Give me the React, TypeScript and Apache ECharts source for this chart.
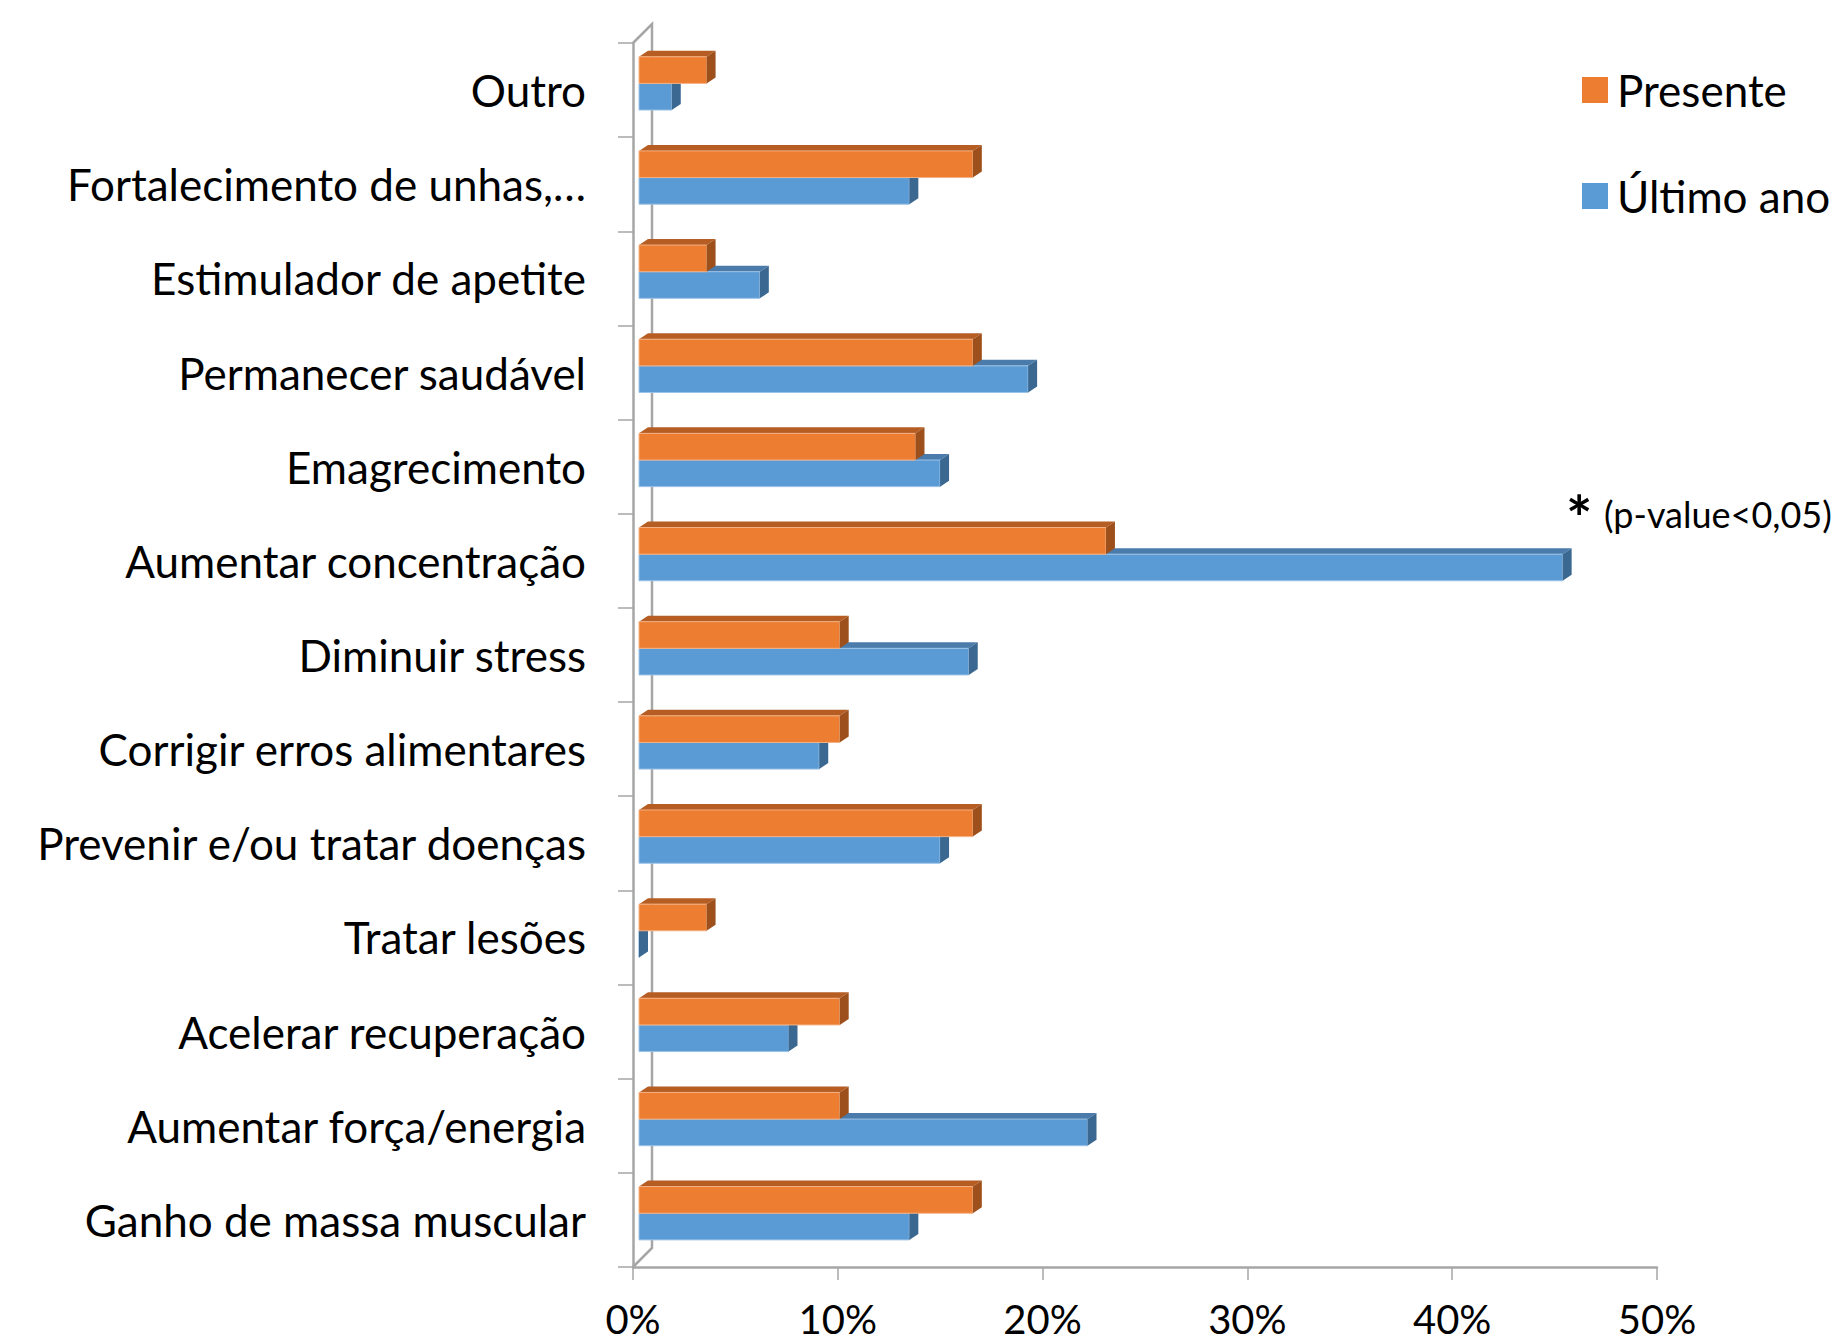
import React, { useEffect, useRef } from "react";
import * as echarts from "echarts";

const categories = [
  "Outro",
  "Fortalecimento de unhas,…",
  "Estimulador de apetite",
  "Permanecer saudável",
  "Emagrecimento",
  "Aumentar concentração",
  "Diminuir stress",
  "Corrigir erros alimentares",
  "Prevenir e/ou tratar doenças",
  "Tratar lesões",
  "Acelerar recuperação",
  "Aumentar força/energia",
  "Ganho de massa muscular",
];
const presente = [3.3, 16.3, 3.3, 16.3, 13.5, 22.8, 9.8, 9.8, 16.3, 3.3, 9.8, 9.8, 16.3];
const ultimoAno = [1.6, 13.2, 5.9, 19.0, 14.7, 45.1, 16.1, 8.8, 14.7, 0, 7.3, 21.9, 13.2];
const seriesNames = ["Presente", "Último ano"];
const annotation = ["*", "(p-value<0,05)"];

const FONT = "Lato, 'Open Sans', sans-serif";
const AXIS_GRAY = "#a6a6a6";

const COLORS = [
  { front: "#ED7D31", top: "#B55D22", side: "#9E501C", edge: "#F4B183" },
  { front: "#5B9BD5", top: "#4A7BAA", side: "#3B6891", edge: "#9DC3E6" },
];

function bar3D(k: number) {
  const c = COLORS[k];
  return (params: any, api: any) => {
    const i = api.value(0);
    const v = api.value(1);
    const band = api.size([0, 1])[1];
    const p0 = api.coord([0, i]);
    const p1 = api.coord([v, i]);
    const off = 6;
    const x0 = p0[0] + off;
    const x1 = p1[0] + off;
    const h = band * 0.283;
    const y0 = p0[1] - band * 0.354 + k * h;
    const y1 = y0 + h;
    const dx = 9;
    const dy = 6;
    return {
      type: "group",
      children: [
        {
          type: "polygon",
          shape: { points: [[x0, y0], [x1, y0], [x1 + dx, y0 - dy], [x0 + dx, y0 - dy]] },
          style: { fill: c.top },
        },
        {
          type: "rect",
          shape: { x: x0, y: y0, width: Math.max(0, x1 - x0), height: h },
          style: { fill: c.front, stroke: c.edge, lineWidth: 1 },
        },
        {
          type: "polygon",
          shape: { points: [[x1, y0], [x1 + dx, y0 - dy], [x1 + dx, y1 - dy], [x1, y1]] },
          style: { fill: c.side },
        },
      ],
    };
  };
}

function backWall(params: any, api: any) {
  const band = api.size([0, 1])[1];
  const n = categories.length;
  const pTop = api.coord([0, 0]);
  const pBot = api.coord([0, n - 1]);
  const x = pTop[0];
  const yT = pTop[1] - band / 2;
  const yB = pBot[1] + band / 2;
  const d = 19;
  return {
    type: "polyline",
    shape: { points: [[x, yT], [x + d, yT - d], [x + d, yB - d], [x, yB]] },
    style: { stroke: AXIS_GRAY, lineWidth: 2.5, fill: "none" },
    silent: true,
  };
}

export default function App() {
  const ref = useRef<HTMLDivElement>(null);
  useEffect(() => {
    document.body.style.margin = "0";
    document.body.style.overflow = "hidden";
    const chart = echarts.init(ref.current!, null, { renderer: "svg" });
    chart.setOption({
      animation: false,
      backgroundColor: "#ffffff",
      grid: { left: 633, right: 182, top: 43, bottom: 75, containLabel: false },
      legend: {
        orient: "vertical",
        left: 1577,
        top: 63,
        data: seriesNames,
        icon: "rect",
        itemWidth: 26,
        itemHeight: 26,
        itemGap: 62,
        textStyle: { fontFamily: FONT, fontSize: 44, color: "#000", padding: [0, 0, 0, 4] },
      },
      xAxis: {
        type: "value",
        min: 0,
        max: 50,
        interval: 10,
        axisLine: { show: true, lineStyle: { color: AXIS_GRAY, width: 2.5 } },
        axisTick: { show: true, length: 13, lineStyle: { color: AXIS_GRAY, width: 1.5 } },
        splitLine: { show: false },
        axisLabel: {
          formatter: "{value}%",
          fontFamily: FONT,
          fontSize: 40,
          color: "#000",
          margin: 32,
        },
      },
      yAxis: {
        type: "category",
        inverse: true,
        data: categories,
        axisLine: { show: true, lineStyle: { color: AXIS_GRAY, width: 2.5 } },
        axisTick: { show: true, length: 15, lineStyle: { color: AXIS_GRAY, width: 1.5 } },
        axisLabel: {
          fontFamily: FONT,
          fontSize: 44,
          color: "#000",
          margin: 47,
        },
      },
      series: [
        {
          type: "custom",
          name: "wall",
          renderItem: backWall,
          data: [[0, 0]],
          encode: { x: 1, y: 0 },
          z: 1,
          silent: true,
        },
        {
          type: "custom",
          name: seriesNames[1],
          renderItem: bar3D(1),
          itemStyle: { color: COLORS[1].front },
          data: ultimoAno.map((v, i) => [i, v]),
          encode: { x: 1, y: 0 },
          z: 2,
        },
        {
          type: "custom",
          name: seriesNames[0],
          renderItem: bar3D(0),
          itemStyle: { color: COLORS[0].front },
          data: presente.map((v, i) => [i, v]),
          encode: { x: 1, y: 0 },
          z: 3,
        },
      ],
      graphic: [
        {
          type: "text",
          left: 1566,
          top: 486,
          style: { text: annotation[0], fontFamily: FONT, fontSize: 62, fontWeight: "bold", fill: "#000" },
        },
        {
          type: "text",
          left: 1604,
          top: 496,
          style: { text: annotation[1], fontFamily: FONT, fontSize: 36, fill: "#000" },
        },
      ],
    });
    return () => chart.dispose();
  }, []);
  return <div ref={ref} style={{ width: 1839, height: 1342 }} />;
}
